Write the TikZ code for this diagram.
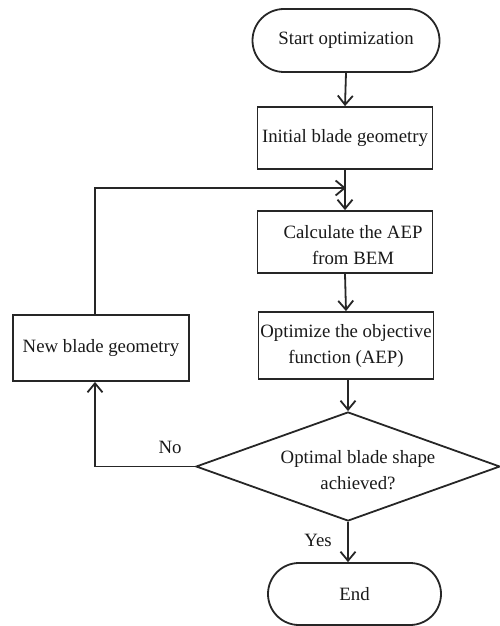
\documentclass[tikz,border=0pt]{standalone}
\usepackage{fontspec}
\setmainfont{Liberation Serif}
\usetikzlibrary{shapes.misc,shapes.geometric,arrows.meta}
\begin{document}
\begin{tikzpicture}[x=1pt,y=-1pt,
  line width=1.8pt, draw=black!85,
  every node/.style={font=\fontsize{18.8}{26}\selectfont, text=black!90},
  term/.style={draw, rounded rectangle, inner sep=0pt},
  proc/.style={draw, rectangle, inner sep=0pt, align=center},
  lbl/.style={inner sep=0pt, align=center},
  arr/.style={-{Straight Barb[length=9pt,width=15pt,line width=1.8pt]}}
]
\useasboundingbox (0,0) rectangle (500,626);
\node[term, minimum width=187pt, minimum height=63pt] (start) at (346,40.5) {Start optimization};
\node[proc, minimum width=175pt, minimum height=62pt] (init) at (345,138) {Initial blade geometry};
\node[proc, minimum width=175pt, minimum height=62pt] (calc) at (345,242) {};
\node[lbl] (calct) at (353,245) {Calculate the AEP\\from BEM};
\node[proc, minimum width=175pt, minimum height=67pt] (opt) at (346,345.5) {Optimize the objective\\function (AEP)};
\node[draw, diamond, inner sep=0pt, minimum width=304pt, minimum height=109pt] (dec) at (348,466.5) {};
\node[lbl] (dect) at (358,470) {Optimal blade shape\\achieved?};
\node[proc, minimum width=176pt, minimum height=66pt] (new) at (101,348) {New blade geometry};
\node[term, minimum width=173pt, minimum height=62pt] (end) at (354.5,594) {End};
\node[lbl] (no) at (170,447) {No};
\node[lbl] (yes) at (318,540) {Yes};
\coordinate (merge) at (346,188);
\coordinate (loopc) at (95,188);
\coordinate (noc) at (95,466.5);

\draw[arr] (start.south) -- (init.north);
\draw[arr] (init.south) -- (calc.north);
\draw[arr] (new.north -| loopc) -- (loopc) -- (merge);
\draw[arr] (calc.south) -- (opt.north);
\draw[arr] (opt.south -| dec.north) -- (dec.north);
\draw[arr] (dec.west) -- (noc) -- (noc |- new.south);
\draw[arr] (dec.south) -- (dec.south |- end.north);
\end{tikzpicture}
\end{document}
